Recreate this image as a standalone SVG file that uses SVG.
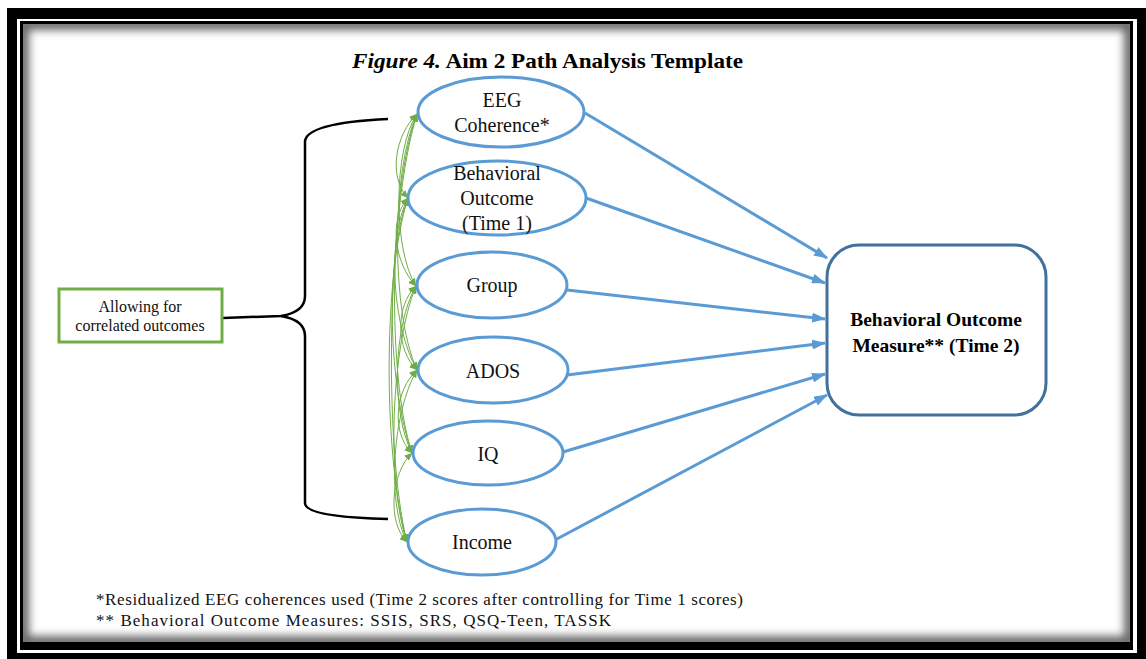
<svg xmlns="http://www.w3.org/2000/svg" width="1146" height="659" viewBox="0 0 1146 659">
<style>
.ell{fill:#fff;stroke:#5B9BD5;stroke-width:3}
.lbl{font-size:20px;fill:#111;text-anchor:middle}
.blue{fill:none;stroke:#5B9BD5;stroke-width:3}
.grn{fill:none;stroke:#70AD47;stroke-width:1}
.note{font-size:17px;fill:#111}
</style>
<defs>
<marker id="ab" markerWidth="14" markerHeight="10" refX="13" refY="5" orient="auto" markerUnits="userSpaceOnUse"><path d="M0,0 L14,5 L0,10 z" fill="#5B9BD5"/></marker>
<marker id="ag" markerWidth="8" markerHeight="7" refX="7.5" refY="3.5" orient="auto-start-reverse" markerUnits="userSpaceOnUse"><path d="M0,0 L8,3.5 L0,7 z" fill="#70AD47"/></marker>
<clipPath id="inner"><rect x="23" y="24" width="1107" height="618"/></clipPath>
<filter id="blur" x="-5%" y="-5%" width="110%" height="110%"><feGaussianBlur stdDeviation="4"/></filter>
</defs>
<g id="frame">
<rect x="0" y="0" width="1146" height="659" fill="#fff"/>
<rect x="7" y="8" width="1139" height="651" fill="#000"/>
<rect x="17" y="19" width="1120" height="634" fill="#fff"/>
<rect x="20" y="21" width="1113" height="629" fill="#000"/>
<rect x="23" y="24" width="1107" height="618" fill="#fff"/>
<g clip-path="url(#inner)"><rect x="23" y="24" width="1107" height="618" fill="none" stroke="#666" stroke-width="12" filter="url(#blur)"/></g>
</g>
<g font-family="Liberation Serif, Times New Roman, serif">
<text id="title" x="352" y="68" textLength="391" lengthAdjust="spacingAndGlyphs" font-size="22" font-weight="bold" fill="#000"><tspan font-style="italic">Figure 4.</tspan> Aim 2 Path Analysis Template</text>
<g id="connectors">
<path class="blue" marker-end="url(#ab)" d="M585,113 L827,258"/>
<path class="blue" marker-end="url(#ab)" d="M586,198 L825,283"/>
<path class="blue" marker-end="url(#ab)" d="M567,290 L825,319"/>
<path class="blue" marker-end="url(#ab)" d="M567,375 L825,343"/>
<path class="blue" marker-end="url(#ab)" d="M563,452 L825,374"/>
<path class="blue" marker-end="url(#ab)" d="M555,540 L827,395"/>
<path d="M223,318 L281,316 Q305,312 305,296 L305,142 Q305,123 388,119" fill="none" stroke="#000" stroke-width="2.5"/>
<path d="M281,316 Q305,320 305,336 L305,503 Q305,517 388,519" fill="none" stroke="#000" stroke-width="2.5"/>
<g id="correlations">
<path class="grn" marker-start="url(#ag)" marker-end="url(#ag)" d="M417,114 C395,135 388,177 408,198"/>
<path class="grn" marker-start="url(#ag)" marker-end="url(#ag)" d="M417,114 C393,150 393,250 416,286"/>
<path class="grn" marker-start="url(#ag)" marker-end="url(#ag)" d="M417,114 C391,170 391,314 417,370"/>
<path class="grn" marker-start="url(#ag)" marker-end="url(#ag)" d="M417,114 C389,190 387,377 412,453"/>
<path class="grn" marker-start="url(#ag)" marker-end="url(#ag)" d="M417,114 C387,210 383,446 407,542"/>
<path class="grn" marker-start="url(#ag)" marker-end="url(#ag)" d="M408,198 C388,220 395,264 416,286"/>
<path class="grn" marker-start="url(#ag)" marker-end="url(#ag)" d="M408,198 C386,240 393,328 417,370"/>
<path class="grn" marker-start="url(#ag)" marker-end="url(#ag)" d="M408,198 C384,260 389,391 412,453"/>
<path class="grn" marker-start="url(#ag)" marker-end="url(#ag)" d="M408,198 C382,280 384,462 407,542"/>
<path class="grn" marker-start="url(#ag)" marker-end="url(#ag)" d="M416,286 C395,306 396,350 417,370"/>
<path class="grn" marker-start="url(#ag)" marker-end="url(#ag)" d="M416,286 C393,326 391,413 412,453"/>
<path class="grn" marker-start="url(#ag)" marker-end="url(#ag)" d="M416,286 C391,346 386,482 407,542"/>
<path class="grn" marker-start="url(#ag)" marker-end="url(#ag)" d="M417,370 C395,390 391,433 412,453"/>
<path class="grn" marker-start="url(#ag)" marker-end="url(#ag)" d="M417,370 C393,410 386,502 407,542"/>
<path class="grn" marker-start="url(#ag)" marker-end="url(#ag)" d="M412,453 C391,473 387,522 407,542"/>
</g>
</g>
<g id="allowing">
<rect x="59" y="289" width="163" height="53" fill="#fff" stroke="#70AD47" stroke-width="3"/>
<text x="140" y="312" text-anchor="middle" font-size="16" fill="#111">Allowing  for</text>
<text x="140" y="331" text-anchor="middle" font-size="16" fill="#111">correlated outcomes</text>
</g>
<g id="eeg"><ellipse class="ell" cx="501" cy="112" rx="83" ry="35"/><text class="lbl" x="502" y="107">EEG</text><text class="lbl" x="502" y="132">Coherence*</text></g>
<g id="behav1"><ellipse class="ell" cx="497" cy="198" rx="89" ry="37"/><text class="lbl" x="497" y="180">Behavioral</text><text class="lbl" x="497" y="205">Outcome</text><text class="lbl" x="497" y="230">(Time  1)</text></g>
<g id="group"><ellipse class="ell" cx="492" cy="285" rx="75" ry="33"/><text class="lbl" x="492" y="292">Group</text></g>
<g id="ados"><ellipse class="ell" cx="493" cy="370" rx="75" ry="33"/><text class="lbl" x="493" y="378">ADOS</text></g>
<g id="iq"><ellipse class="ell" cx="488" cy="453" rx="75" ry="32"/><text class="lbl" x="488" y="461">IQ</text></g>
<g id="income"><ellipse class="ell" cx="482" cy="542" rx="74" ry="33"/><text class="lbl" x="482" y="549">Income</text></g>
<g id="outcome2">
<rect x="827" y="245" width="219" height="170" rx="32" ry="32" fill="#fff" stroke="#41719C" stroke-width="3"/>
<text x="936" y="326" text-anchor="middle" font-size="19.5" font-weight="bold" fill="#000">Behavioral Outcome</text>
<text x="936" y="352" text-anchor="middle" font-size="19.5" font-weight="bold" fill="#000">Measure** (Time 2)</text>
</g>
<g id="notes">
<text class="note" x="96" y="605" textLength="647" lengthAdjust="spacing">*Residualized EEG coherences used (Time 2 scores after controlling for Time 1 scores)</text>
<text class="note" x="96" y="626" textLength="515" lengthAdjust="spacing">** Behavioral Outcome Measures: SSIS, SRS, QSQ-Teen, TASSK</text>
</g>
</g>
</svg>
